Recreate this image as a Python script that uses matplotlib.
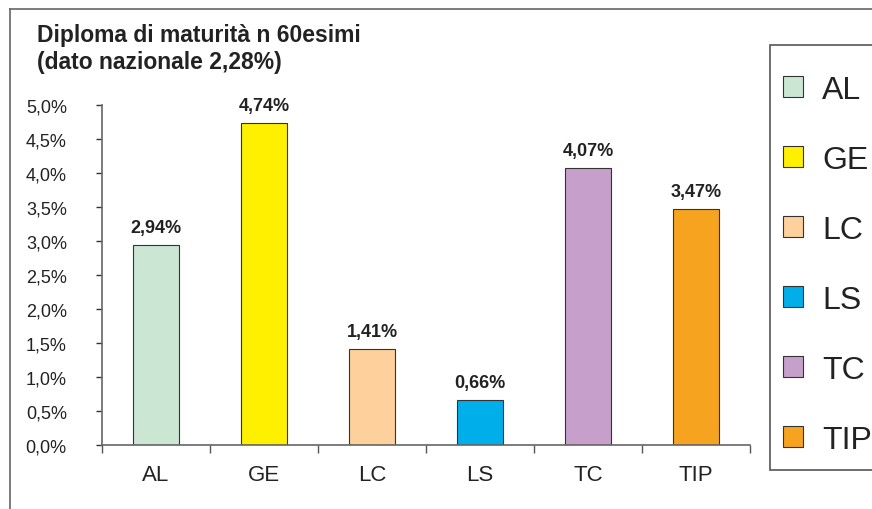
import matplotlib
matplotlib.use('Agg')
import matplotlib.pyplot as plt
from matplotlib.lines import Line2D
from matplotlib.patches import Rectangle
from matplotlib.ticker import FuncFormatter, MultipleLocator, FixedLocator

plt.rcParams['font.family'] = ['Liberation Sans', 'DejaVu Sans']

categories = ['AL', 'GE', 'LC', 'LS', 'TC', 'TIP']
values = [2.94, 4.74, 1.41, 0.66, 4.07, 3.47]
colors = ['#cce6d4', '#fff000', '#fdd09c', '#00aeea', '#c6a0ca', '#f6a41f']
title = 'Diploma di maturità n 60esimi\n(dato nazionale 2,28%)'

W, H = 872, 510
fig = plt.figure(figsize=(W / 100, H / 100), dpi=100)
ax = fig.add_axes([102 / W, 1 - 446 / H, (750 - 102) / W, (446 - 106) / H])

x = list(range(len(categories)))
bars = ax.bar(x, values, width=0.42, color=colors, edgecolor='#333333',
              linewidth=0.8)

for xi, v in zip(x, values):
    ax.annotate(f'{v:.2f}%'.replace('.', ','), (xi, v), xytext=(0, 6.5),
                textcoords='offset points', ha='center', va='bottom',
                fontsize=13, fontweight='bold', color='#222222')

ax.set_xlim(-0.5, len(categories) - 0.5)
ax.set_ylim(0, 5.0)
ax.yaxis.set_major_locator(MultipleLocator(0.5))
ax.yaxis.set_major_formatter(FuncFormatter(lambda v, p: f'{v:.1f}%'.replace('.', ',')))
ax.set_xticks(x)
ax.set_xticklabels(categories)
ax.xaxis.set_minor_locator(FixedLocator([i - 0.5 for i in range(len(categories) + 1)]))

ax.tick_params(axis='y', direction='out', length=4.3, width=1, color='#333333',
               pad=21, labelsize=13, labelcolor='#222222')
ax.tick_params(axis='x', which='major', length=0, pad=14, labelsize=16,
               labelcolor='#222222')
ax.tick_params(axis='x', which='minor', direction='out', length=5.5, width=1,
               color='#555555')

for s in ['top', 'right']:
    ax.spines[s].set_visible(False)
for s in ['left', 'bottom']:
    ax.spines[s].set_color('#666666')
    ax.spines[s].set_linewidth(1.2)

fig.text(37 / W, 1 - 24 / H, title, ha='left', va='top', fontsize=16.5,
         fontweight='bold', color='#222222', linespacing=1.2)

# outer frame (partially visible)
fig.add_artist(Line2D([10 / W, 10 / W], [0, 1 - 10 / H], color='#666666', lw=1.2))
fig.add_artist(Line2D([10 / W, 1], [1 - 10 / H, 1 - 10 / H], color='#666666', lw=1.2))

# legend box, cut by the right edge
fig.add_artist(Rectangle((770 / W, 1 - 471 / H), 120 / W, (471 - 46) / H,
                         transform=fig.transFigure, facecolor='white',
                         edgecolor='#555555', lw=1.2))
leg = fig.legend(handles=list(bars), labels=categories, loc='upper left',
                 bbox_to_anchor=(783 / W, 1 - 76 / H), bbox_transform=fig.transFigure,
                 borderaxespad=0, borderpad=0, fontsize=23, handlelength=0.62,
                 handleheight=0.62, handletextpad=0.6, labelspacing=1.25,
                 frameon=False)
for t in leg.get_texts():
    t.set_color('#222222')

fig.savefig('out.png', dpi=100)
